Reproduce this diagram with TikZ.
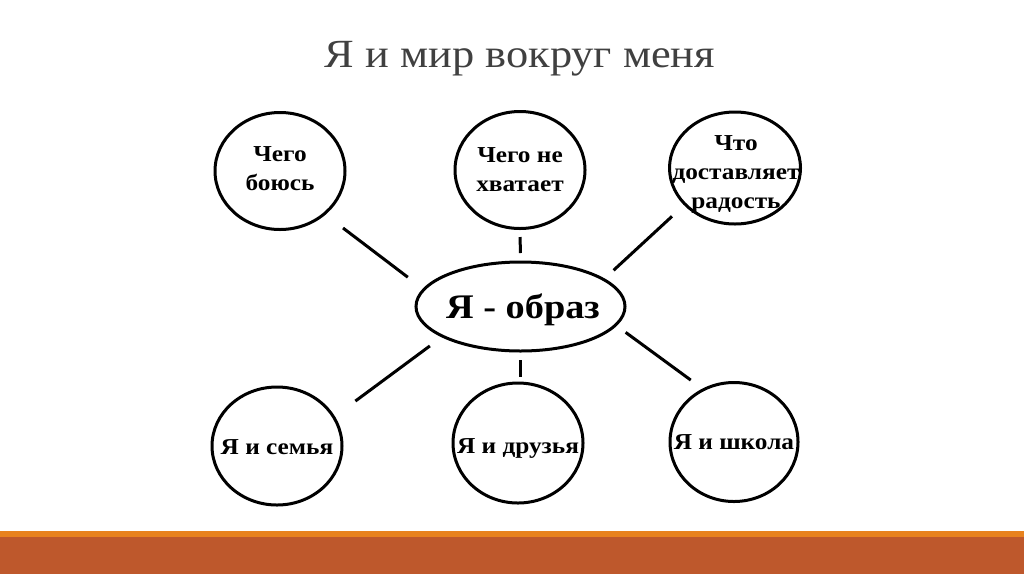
\documentclass[tikz,border=0pt]{standalone}
\usepackage{fontspec}
\setmainfont{Liberation Serif}[FakeStretch=1.11]
\usetikzlibrary{shapes.geometric}
\definecolor{titlegray}{HTML}{404040}
\definecolor{barorange}{HTML}{E8821E}
\definecolor{barred}{HTML}{BE582C}
\tikzset{
  bubble/.style={draw=black, line width=3pt, ellipse, minimum width=130pt, minimum height=117pt, inner sep=0pt, outer sep=0pt},
  bubtext/.style={font=\bfseries\fontsize{22.8}{29}\selectfont, align=center, inner sep=0pt},
  link/.style={line width=3pt, draw=black},
  titlefont/.style={font=\fontsize{40}{48}\selectfont, inner sep=0pt, anchor=base},
}
\begin{document}
\begin{tikzpicture}[x=1pt,y=-1pt]
\useasboundingbox (0,0) rectangle (1024,574);
\fill[white] (0,0) rectangle (1024,574);
% title
\node[titlefont, text=titlegray] (title) at (520,67) {Я и мир вокруг меня};
% bubbles
\node[bubble] (tl) at (280,171) {};
\node[bubble] (tm) at (520,170) {};
\node[bubble, minimum width=131pt, minimum height=112pt] (tr) at (735,168) {};
\node[bubble, minimum height=118pt] (bl) at (277,446) {};
\node[bubble, minimum height=120pt] (bm) at (518,443) {};
\node[bubble, minimum width=128pt, minimum height=119pt] (br) at (734,442) {};
\node[draw=black, ellipse, line width=3pt, minimum width=209pt, minimum height=89pt, inner sep=0pt, outer sep=0pt] (me) at (520.5,306.5) {};
% texts
\node[bubtext] (tlt) at (280,169) {Чего\\боюсь};
\node[bubtext] (tmt) at (520,170) {Чего не\\хватает};
\node[bubtext] (trt) at (736,174) {Что\\доставляет\\радость};
\node[bubtext] (blt) at (277,447.5) {Я и семья};
\node[bubtext] (bmt) at (518,448) {Я и друзья};
\node[bubtext] (brt) at (734,442.3) {Я и школа};
\node[font=\bfseries\fontsize{34.5}{40}\selectfont, inner sep=0pt] (met) at (523,310) {Я - образ};
% connectors
\draw[link, shorten <=23.5pt, shorten >=20.3pt] (tl.-44) -- (me.170);
\draw[link, shorten <=17.8pt, shorten >=13.6pt] (tr.-144) -- (me.18);
\draw[link, shorten <=27pt, shorten >=16.2pt] (bl.27) -- (me.-159);
\draw[link, shorten <=16.1pt, shorten >=12.5pt] (br.120) -- (me.-11.5);
\draw[link, shorten <=8.5pt, shorten >=9pt] (tm.south) -- (me.north);
\draw[link, shorten <=9pt, shorten >=6pt] (me.south) -- (me.south |- bm.north);
% bottom bar
\fill[barorange] (0,531) rectangle (1024,536.5);
\fill[barred] (0,536.5) rectangle (1024,574);
\end{tikzpicture}
\end{document}
